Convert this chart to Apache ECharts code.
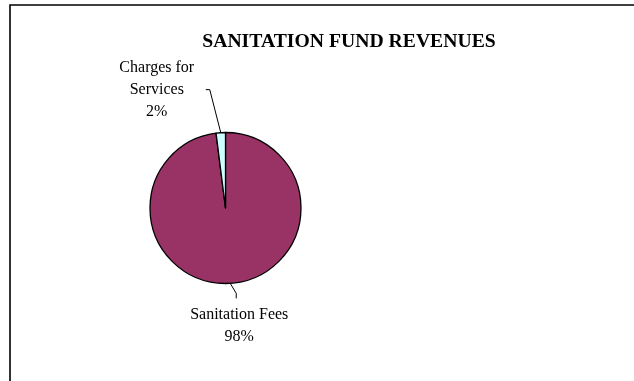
<!DOCTYPE html>
<html>
<head>
<meta charset="utf-8">
<script src="https://cdn.jsdelivr.net/npm/echarts@6/dist/echarts.min.js"></script>
<style>
  html, body { margin: 0; padding: 0; background: #fff; }
  #chart { width: 634px; height: 381px; }
</style>
</head>
<body>
<div id="chart"></div>
<script>
const titleText = 'SANITATION FUND REVENUES';
const categories = ['Sanitation Fees', 'Charges for Services'];
const shares = [98, 2];
const colors = ['#993366', '#CCFFFF'];

const chart = echarts.init(document.getElementById('chart'), null, { renderer: 'canvas' });

const data = categories.map((name, i) => ({
  name: name,
  value: shares[i],
  itemStyle: { color: colors[i] }
}));

// leader line offsets relative to the arc point, and label offsets relative to line end
const lineOffsets = [
  { p1: [6, 10], p2: [0, 5], label: [3, 27] },
  { p1: [-11, -43], p2: [-4, 0], label: [-49, 0] }
];

chart.setOption({
  backgroundColor: '#ffffff',
  animation: false,
  title: {
    text: titleText,
    left: 344,
    top: 27,
    textAlign: 'center',
    textStyle: {
      fontFamily: 'Liberation Serif',
      fontWeight: 'bold',
      fontSize: 19.7,
      color: '#000',
      lineHeight: 20
    }
  },
  graphic: [{
    type: 'rect',
    shape: { x: 10, y: 5, width: 700, height: 500 },
    style: { fill: 'none', stroke: '#000', lineWidth: 1.6 },
    silent: true,
    z: 100
  }],
  series: [{
    type: 'pie',
    center: [225.5, 208],
    radius: 75.5,
    startAngle: 90,
    clockwise: true,
    percentPrecision: 0,
    data: data,
    itemStyle: { borderColor: '#000', borderWidth: 1.3 },
    emphasis: { disabled: true },
    label: {
      show: true,
      position: 'outside',
      formatter: p => p.name.replace(' for ', ' for\n') + '\n' + p.percent + '%',
      fontFamily: 'Liberation Serif',
      fontSize: 16,
      lineHeight: 22,
      color: '#000'
    },
    labelLine: {
      show: true,
      length: 20,
      length2: 5,
      lineStyle: { color: '#000', width: 1 }
    },
    labelLayout: function (params) {
      const o = lineOffsets[params.dataIndex];
      const p0 = params.labelLinePoints[0];
      const p1 = [p0[0] + o.p1[0], p0[1] + o.p1[1]];
      const p2 = [p1[0] + o.p2[0], p1[1] + o.p2[1]];
      return {
        x: p2[0] + o.label[0],
        y: p2[1] + o.label[1],
        align: 'center',
        verticalAlign: 'middle',
        labelLinePoints: [p0, p1, p2]
      };
    }
  }]
});
</script>
</body>
</html>
